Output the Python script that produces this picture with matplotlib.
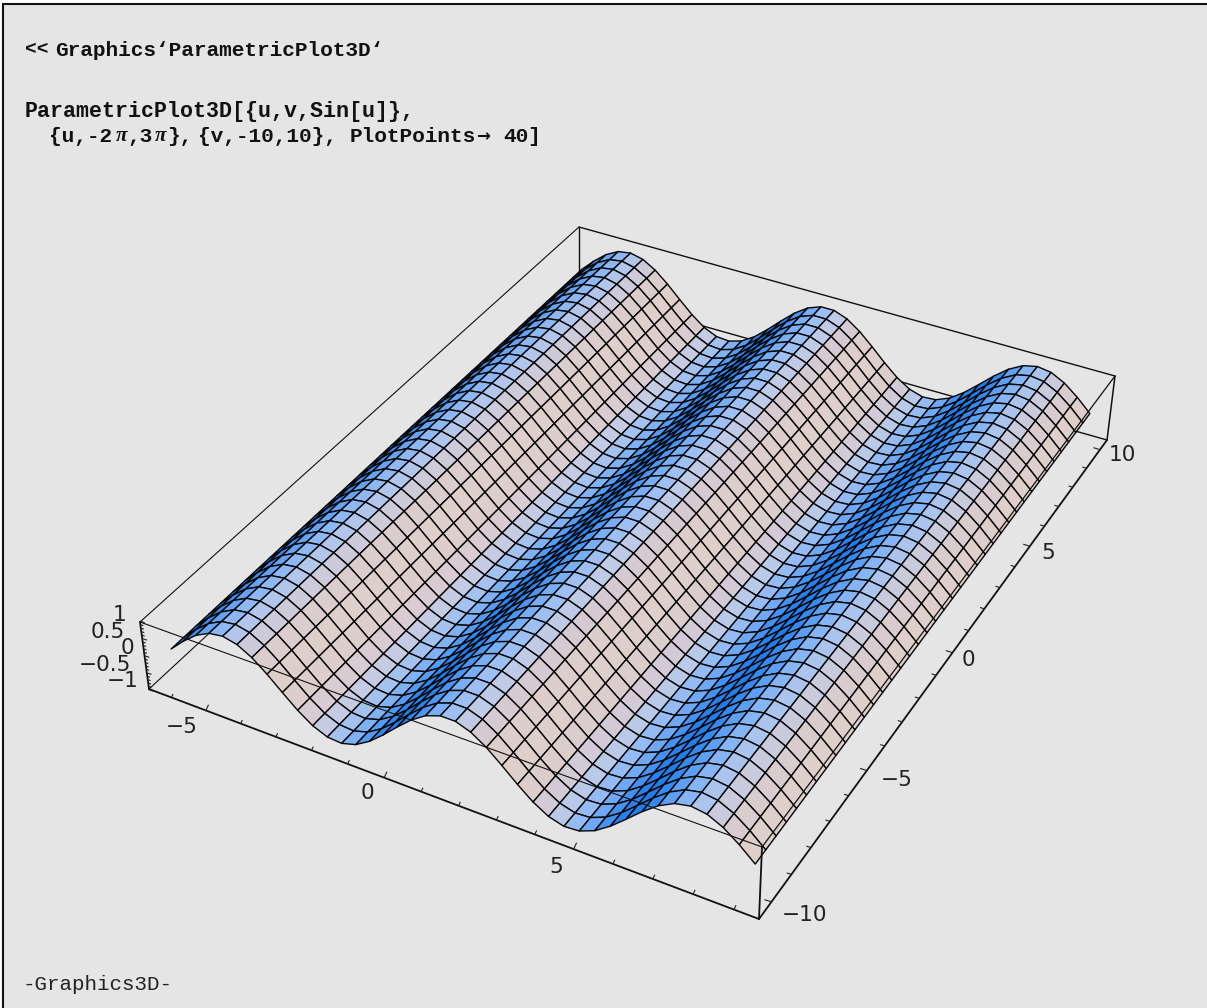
import numpy as np
import matplotlib
matplotlib.use('Agg')
import matplotlib.pyplot as plt
from matplotlib.collections import PolyCollection, LineCollection
from matplotlib.colors import to_rgb

W, H = 1207, 1008

# grid (40 points each way)
u = [-6.283, -5.880, -5.478, -5.075, -4.672, -4.269, -3.867, -3.464, -3.061, -2.658,
     -2.255, -1.853, -1.450, -1.047, -0.645, -0.242, 0.161, 0.564, 0.967, 1.369,
     1.772, 2.175, 2.578, 2.980, 3.383, 3.786, 4.189, 4.591, 4.994, 5.397,
     5.800, 6.203, 6.605, 7.008, 7.411, 7.814, 8.217, 8.619, 9.022, 9.425]
v = [-10.0, -9.487, -8.974, -8.462, -7.949, -7.436, -6.923, -6.410, -5.897, -5.385,
     -4.872, -4.359, -3.846, -3.333, -2.821, -2.308, -1.795, -1.282, -0.769, -0.256,
     0.256, 0.769, 1.282, 1.795, 2.308, 2.821, 3.333, 3.846, 4.359, 4.872,
     5.385, 5.897, 6.410, 6.923, 7.436, 7.949, 8.462, 8.974, 9.487, 10.0]
z = [0.000, 0.392, 0.721, 0.935, 0.999, 0.903, 0.664, 0.317, -0.080, -0.464,
     -0.775, -0.960, -0.993, -0.866, -0.601, -0.240, 0.160, 0.534, 0.823, 0.980,
     0.980, 0.823, 0.534, 0.160, -0.240, -0.601, -0.866, -0.993, -0.960, -0.775,
     -0.464, -0.080, 0.317, 0.664, 0.903, 0.999, 0.935, 0.721, 0.392, 0.000]

u_ticks = [-6, -5, -4, -3, -2, -1, 0, 1, 2, 3, 4, 5, 6, 7, 8, 9]
v_ticks = [-10, -9, -8, -7, -6, -5, -4, -3, -2, -1, 0, 1, 2, 3, 4, 5, 6, 7, 8, 9, 10]
z_ticks = [-1, -0.9, -0.8, -0.7, -0.6, -0.5, -0.4, -0.3, -0.2, -0.1, 0,
           0.1, 0.2, 0.3, 0.4, 0.5, 0.6, 0.7, 0.8, 0.9, 1]
u_labels = {-5: (182, 727), 0: (367, 793), 5: (556, 867)}
v_labels = {-10: (804, 915), -5: (897, 780), 0: (968, 660), 5: (1048, 553), 10: (1122, 455)}
z_labels = {1: ('1', 120, 615), 0.5: ('0.5', 108, 632), 0: ('0', 127, 648),
            -0.5: ('\u22120.5', 105, 665), -1: ('\u22121', 123, 681)}

# slope of the sheet -> shade
slope_stops = [-1.0, -0.72, -0.39, 0.0, 0.39, 0.7, 1.0]
shade_stops = ['#dfcfca', '#d6cad2', '#bfcbe6', '#9dbff3', '#78aef6', '#4f98f2', '#1f7cec']

# where known points of the sheet and box sit in the picture
sheet_pts = [(0, 0, 170, 649), (39, 0, 755, 864), (39, 39, 1090, 413),
             (12, 0, 342, 744), (13, 0, 357, 744), (28, 0, 578, 831), (29, 0, 595, 831),
             (18, 0, 427, 715), (19, 0, 440, 715), (34, 0, 675, 804), (35, 0, 690, 807),
             (3, 39, 618, 252), (4, 39, 630, 253), (18, 39, 808, 308), (19, 39, 822, 307),
             (34, 39, 1023, 366), (35, 39, 1037, 366)]
box_u = (-6.65, 9.6)
box_v = (-10.6, 10.5)
box_pts = {(0, 0, 1): (140, 622), (1, 0, 1): (762, 847), (1, 1, 1): (1115, 376), (0, 1, 1): (579, 227),
           (0, 0, 0): (149, 689), (1, 0, 0): (759, 919), (1, 1, 0): (1107, 440), (0, 1, 0): (579, 291)}


def fit_camera(world, pix):
    rows = []
    rhs = []
    for (x, y, w), (px, py) in zip(world, pix):
        rows.append([x, y, w, 1, 0, 0, 0, 0, -px * x, -px * y, -px * w])
        rows.append([0, 0, 0, 0, x, y, w, 1, -py * x, -py * y, -py * w])
        rhs += [px, py]
    sol = np.linalg.lstsq(np.array(rows), np.array(rhs, dtype=float), rcond=None)[0]
    return np.append(sol, 1.0).reshape(3, 4)


def project(cam, x, y, w):
    p = cam @ np.array([x, y, w, 1.0])
    return p[0] / p[2], p[1] / p[2]


sheet_world = [(u[i], v[j], z[i]) for i, j, _, _ in sheet_pts]
sheet_pix = [(a, b) for _, _, a, b in sheet_pts]
cam = fit_camera(sheet_world, sheet_pix)

box_world = [(box_u[a], box_v[b], -1 + 2 * c) for a, b, c in box_pts]
box_cam = fit_camera(box_world, list(box_pts.values()))

fig = plt.figure(figsize=(W / 100, H / 100), dpi=100, facecolor='white')
ax = fig.add_axes([0, 0, 1, 1])
ax.set_xlim(0, W)
ax.set_ylim(H, 0)
ax.axis('off')

# panel and its frame
ax.fill([3, W + 5, W + 5, 3], [4, 4, H + 5, H + 5], facecolor='#e5e5e5',
        edgecolor='#111111', lw=1.5, zorder=0)


def edge(a, b, lw, zorder):
    ax.plot([box_pts[a][0], box_pts[b][0]], [box_pts[a][1], box_pts[b][1]],
            color='#111111', lw=lw, solid_capstyle='round', zorder=zorder)


# back of the box, behind the sheet
edge((0, 1, 1), (0, 1, 0), 1.0, 1)
edge((0, 1, 0), (1, 1, 0), 1.0, 1)
edge((0, 1, 0), (0, 0, 0), 0.8, 1)
edge((0, 0, 1), (0, 1, 1), 0.8, 1)
edge((0, 1, 1), (1, 1, 1), 1.0, 1)
edge((1, 1, 1), (1, 1, 0), 1.1, 1)

# sheet, far cells first
slopes = np.diff(z) / np.diff(u)
stops = np.array([to_rgb(c) for c in shade_stops])
polys = []
colors = []
for i in range(len(u) - 1):
    c = [np.interp(slopes[i], slope_stops, stops[:, k]) for k in range(3)]
    for j in range(len(v) - 2, -1, -1):
        polys.append([project(cam, u[i], v[j], z[i]),
                      project(cam, u[i + 1], v[j], z[i + 1]),
                      project(cam, u[i + 1], v[j + 1], z[i + 1]),
                      project(cam, u[i], v[j + 1], z[i])])
        colors.append(c)
ax.add_collection(PolyCollection(polys, facecolors=colors, edgecolors='#050505',
                                 linewidths=1.0, joinstyle='round', zorder=2))

# these box edges get drawn over the sheet
edge((0, 0, 1), (1, 0, 1), 0.8, 3)
edge((1, 0, 1), (1, 1, 1), 0.9, 3)

# front axes with ticks
edge((0, 0, 0), (1, 0, 0), 1.3, 4)
edge((1, 0, 0), (1, 1, 0), 1.3, 4)
edge((0, 0, 0), (0, 0, 1), 1.3, 4)
edge((1, 0, 0), (1, 0, 1), 1.3, 4)

segs = []
for t in u_ticks:
    a = project(box_cam, t, box_v[0], -1)
    n = 7 if t % 5 == 0 else 4.5
    segs.append([a, (a[0] + 0.42 * n, a[1] - 0.9 * n)])
for t in v_ticks:
    a = project(box_cam, box_u[1], t, -1)
    n = 7 if t % 5 == 0 else 4.5
    segs.append([a, (a[0] - 0.95 * n, a[1] - 0.3 * n)])
for t in z_ticks:
    a = project(box_cam, box_u[0], box_v[0], t)
    n = 5 if round(t * 10) % 5 == 0 else 3
    segs.append([a, (a[0] + 0.95 * n, a[1] + 0.3 * n)])
ax.add_collection(LineCollection(segs, colors='#222222', linewidths=0.8, zorder=4))

tick_font = dict(family='DejaVu Sans', fontsize=15.6, color='#222222', ha='center', va='center')
for t, (x, y) in u_labels.items():
    ax.text(x, y, f'{t}'.replace('-', '\u2212'), **tick_font)
for t, (x, y) in v_labels.items():
    ax.text(x, y, f'{t}'.replace('-', '\u2212'), **tick_font)
for t, (s, x, y) in z_labels.items():
    ax.text(x, y, s, **tick_font)

# notebook text
code = dict(family='Liberation Mono', fontsize=15.2, fontweight='bold', color='#111111',
            ha='left', va='center')
greek = dict(family='Liberation Serif', fontsize=15.2, fontstyle='italic', fontweight='bold',
             color='#111111', ha='left', va='center')
ax.text(25, 50, '<<', **{**code, 'fontsize': 14})
ax.text(55, 50, 'Graphics\u2018ParametricPlot3D\u2018', **code)
ax.text(25, 111, 'ParametricPlot3D[{u,v,Sin[u]},', **{**code, 'fontsize': 15.6})
ax.text(49, 136, '{u,-2', **code)
ax.text(116, 136, '\u03c0', **greek)
ax.text(127, 136, ',3', **code)
ax.text(155, 136, '\u03c0', **greek)
ax.text(167, 136, '},', **code)
ax.text(198, 136, '{v,-10,10},', **code)
ax.text(350, 136, 'PlotPoints', **code)
ax.text(476, 136, '\u2192', family='DejaVu Sans', fontsize=12, fontweight='bold', color='#111111',
        ha='left', va='center')
ax.text(503, 136, '40]', **code)
ax.text(23, 985, '-Graphics3D-', family='Liberation Mono', fontsize=15, color='#222222',
        ha='left', va='center')

fig.savefig('out.png', dpi=100)
